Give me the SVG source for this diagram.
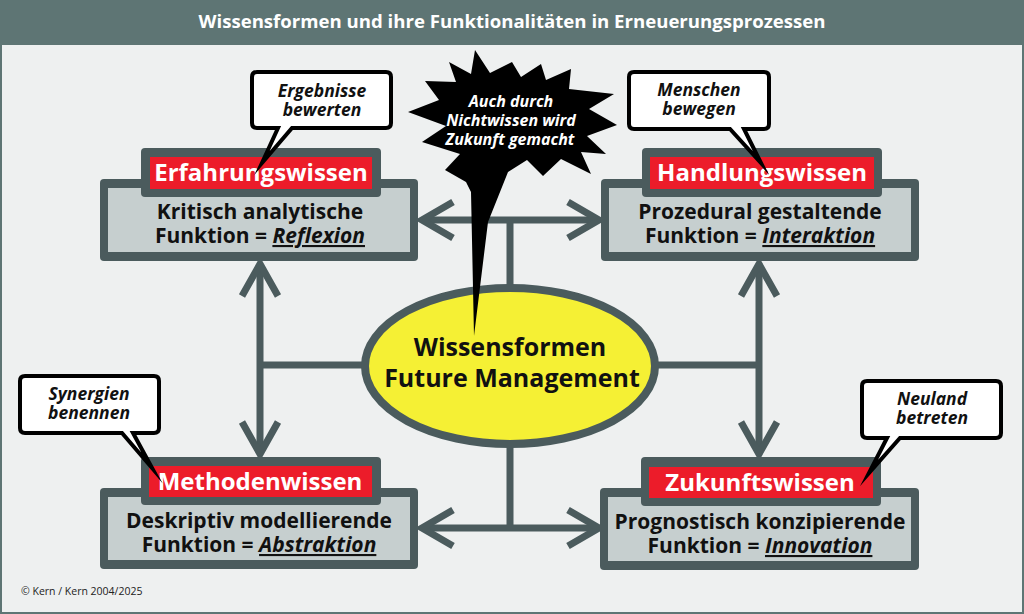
<svg xmlns="http://www.w3.org/2000/svg" width="1024" height="614" viewBox="0 0 1024 614">
<style>
.t{font-family:"Open Sans","Liberation Sans",sans-serif;font-weight:bold;text-anchor:middle;font-variant-ligatures:none}
.title{fill:#fff;font-size:18.6px}
.hdr{fill:#fff;font-size:24px}
.body{fill:#111;font-size:21px}
.em{font-style:italic;text-decoration:underline}
.call{fill:#111;font-size:17.5px;font-style:italic}
.star{fill:#fff;font-size:16px;font-style:italic}
.outer{fill:#4b5b5d}
.inner{fill:#c6cfcf}
.red{fill:#ec1c2a}
.bubble{fill:#fff;stroke:#000;stroke-width:4;stroke-linejoin:miter;stroke-miterlimit:20}
.con{fill:none;stroke:#4b5b5d;stroke-width:7}
</style>
<rect x="0" y="0" width="1024" height="614" fill="#5e7574"/>
<rect x="2" y="45" width="1020" height="567" fill="#eef0f0"/>
<text class="t title" x="512" y="28">Wissensformen und ihre Funktionalitäten in Erneuerungsprozessen</text>

<g id="connectors">
<path class="con" d="M260 264 V454 M759 264 V454 M260 365 H365 M655 365 H759 M510 288 V220 M422 220 H599 M510 444 V528 M422 528 H599"/>
<path class="con" d="M242 296 L260 264 L278 296 M242 422 L260 454 L278 422 M741 296 L759 264 L777 296 M741 422 L759 454 L777 422 M453 202 L422 220 L453 238 M568 202 L599 220 L568 238 M453 510 L422 528 L453 546 M568 510 L599 528 L568 546"/>
</g>

<g id="center">
<ellipse cx="510" cy="366" rx="145" ry="78" fill="#f5f034" stroke="#4b5b5d" stroke-width="8"/>
<text class="t" x="510" y="356" font-size="25" fill="#111">Wissensformen</text>
<text class="t" x="512" y="387" font-size="25" fill="#111">Future Management</text>
</g>

<g id="star">
<path fill="#000" d="M475 50 L490 73 L512 62 L521 77 L541 64 L546 80 L571 69 L569 89 L614 94 L589 109 L617 125 L587 136 L606 154 L581 152 L591 174 L561 159 L543 176 L527 160 L508 172 L488 222 L474 336 L471 192 L466 182 L445 170 L460 154 L422 142 L446 126 L408 112 L439 100 L425 81 L456 82 L449 62 L471 74 Z"/>
<text class="t star" x="511" y="107">Auch durch</text>
<text class="t star" x="511" y="126">Nichtwissen wird</text>
<text class="t star" x="510" y="145">Zukunft gemacht</text>
</g>

<g id="erfahrungswissen">
<rect class="outer" x="100" y="179" width="318" height="82" rx="4"/>
<rect class="inner" x="108" y="188" width="302" height="64"/>
<rect class="outer" x="141" y="148" width="240" height="49" rx="4"/>
<rect class="red" x="150" y="157" width="222" height="32"/>
<text class="t hdr" x="261" y="181">Erfahrungswissen</text>
<text class="t body" x="260" y="219">Kritisch analytische</text>
<text class="t body" x="260" y="243">Funktion = <tspan class="em">Reflexion</tspan></text>
<path class="bubble" d="M257 72 H386 Q391 72 391 77 V123 Q391 128 386 128 H292 L262 163 L278 128 H257 Q252 128 252 123 V77 Q252 72 257 72 Z"/>
<text class="t call" x="322" y="97">Ergebnisse</text>
<text class="t call" x="322" y="116">bewerten</text>
</g>

<g id="handlungswissen">
<rect class="outer" x="601" y="179" width="318" height="82" rx="4"/>
<rect class="inner" x="609" y="188" width="302" height="64"/>
<rect class="outer" x="642" y="148" width="240" height="49" rx="4"/>
<rect class="red" x="650" y="157" width="224" height="32"/>
<text class="t hdr" x="762" y="181">Handlungswissen</text>
<text class="t body" x="760" y="219">Prozedural gestaltende</text>
<text class="t body" x="760" y="243">Funktion = <tspan class="em">Interaktion</tspan></text>
<path class="bubble" d="M634 72 H764 Q769 72 769 77 V124 Q769 129 764 129 H744 L761 163 L730 129 H634 Q629 129 629 124 V77 Q629 72 634 72 Z"/>
<text class="t call" x="699" y="96">Menschen</text>
<text class="t call" x="699" y="115">bewegen</text>
</g>

<g id="methodenwissen">
<rect class="outer" x="100" y="488" width="318" height="81" rx="4"/>
<rect class="inner" x="108" y="497" width="302" height="63"/>
<rect class="outer" x="141" y="457" width="240" height="48" rx="4"/>
<rect class="red" x="149" y="466" width="223" height="31"/>
<text class="t hdr" x="260" y="490">Methodenwissen</text>
<text class="t body" x="259" y="528">Deskriptiv modellierende</text>
<text class="t body" x="259" y="552">Funktion = <tspan class="em">Abstraktion</tspan></text>
<path class="bubble" d="M25 376 H154 Q159 376 159 381 V428 Q159 433 154 433 H133 L152 468 L122 433 H25 Q20 433 20 428 V381 Q20 376 25 376 Z"/>
<text class="t call" x="89" y="400">Synergien</text>
<text class="t call" x="89" y="419">benennen</text>
</g>

<g id="zukunftswissen">
<rect class="outer" x="600" y="488" width="319" height="82" rx="4"/>
<rect class="inner" x="608" y="497" width="303" height="64"/>
<rect class="outer" x="641" y="457" width="240" height="49" rx="4"/>
<rect class="red" x="649" y="467" width="224" height="31"/>
<text class="t hdr" x="760" y="491">Zukunftswissen</text>
<text class="t body" x="760" y="529">Prognostisch konzipierende</text>
<text class="t body" x="760" y="553">Funktion = <tspan class="em">Innovation</tspan></text>
<path class="bubble" d="M867 381 H996 Q1001 381 1001 386 V433 Q1001 438 996 438 H900 L869 473 L887 438 H867 Q862 438 862 433 V386 Q862 381 867 381 Z"/>
<text class="t call" x="932" y="405">Neuland</text>
<text class="t call" x="932" y="424">betreten</text>
</g>

<text x="21" y="595" font-family="'Open Sans','Liberation Sans',sans-serif" font-size="10.5" fill="#222">© Kern / Kern 2004/2025</text>
</svg>
